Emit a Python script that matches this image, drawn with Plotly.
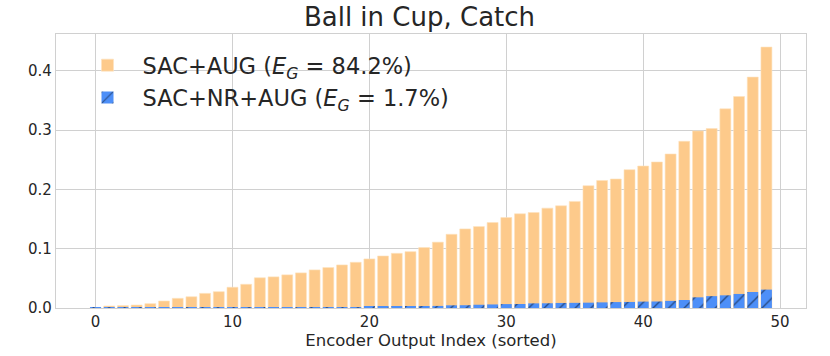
import plotly.graph_objects as go

# Sorted encoder output magnitudes
indices = list(range(50))
sac_aug = [0.001, 0.0034, 0.004, 0.005, 0.0073, 0.0118, 0.0163, 0.019, 0.0247, 0.0275,
           0.035, 0.040, 0.051, 0.0525, 0.0559, 0.0592, 0.0642, 0.0682, 0.0726, 0.0771,
           0.0827, 0.0877, 0.0922, 0.095, 0.102, 0.111, 0.1243, 0.1333, 0.1373, 0.1441,
           0.1525, 0.1588, 0.161, 0.1684, 0.1723, 0.1797, 0.2062, 0.215, 0.2175, 0.2332,
           0.2394, 0.2462, 0.2597, 0.2811, 0.2986, 0.3025, 0.3358, 0.3566, 0.3893, 0.44]
sac_nr_aug = [0.0001, 0.0001, 0.0001, 0.0001, 0.0001, 0.0002, 0.0002, 0.0002, 0.0002, 0.0002,
              0.0002, 0.0002, 0.0003, 0.0003, 0.0004, 0.0005, 0.0008, 0.001, 0.0012, 0.0015,
              0.002, 0.0025, 0.0028, 0.003, 0.0033, 0.0035, 0.0045, 0.0047, 0.0055, 0.006,
              0.0066, 0.0068, 0.0078, 0.008, 0.0085, 0.0087, 0.009, 0.0095, 0.0100, 0.0102,
              0.0108, 0.011, 0.012, 0.0135, 0.018, 0.020, 0.0214, 0.0237, 0.027, 0.031]
x_ticks = [0, 10, 20, 30, 40, 50]
y_ticks = [0.0, 0.1, 0.2, 0.3, 0.4]

TEXT = '#262626'
GRID = '#d0d0d0'

fig = go.Figure()

fig.add_trace(go.Bar(
    x=indices, y=sac_aug, width=0.8,
    name='SAC+AUG (<i>E</i><sub><i>G</i></sub> = 84.2%)',
    legendgroup='a',
    marker=dict(color='#fdca8b', line=dict(color='#fde2bd', width=0.6)),
))
fig.add_trace(go.Bar(
    x=indices, y=sac_nr_aug, width=0.8,
    name='SAC+NR+AUG (<i>E</i><sub><i>G</i></sub> = 1.7%)',
    legendgroup='b',
    marker=dict(color='#4d8ff8', line=dict(width=0),
                pattern=dict(shape='/', fgcolor='black', size=11, solidity=0.12)),
))

fig.update_layout(
    width=830, height=356,
    margin=dict(l=56, r=24, t=34, b=48),
    barmode='overlay',
    plot_bgcolor='white', paper_bgcolor='white',
    font=dict(family='DejaVu Sans', color=TEXT, size=15),
    title=dict(text='Ball in Cup, Catch', x=0.5054, xanchor='center', y=0.953, yanchor='middle',
               font=dict(size=26, color=TEXT)),
    legend=dict(x=0.022, y=0.9635, xanchor='left', yanchor='top',
                bgcolor='rgba(0,0,0,0)', font=dict(size=22.5, color=TEXT),
                itemwidth=60, tracegroupgap=12, traceorder='normal'),
    xaxis=dict(range=[-2.89, 51.89], tickvals=x_ticks, showgrid=True, gridcolor=GRID,
               gridwidth=1.2, zeroline=False, showline=True, mirror=True, linecolor=GRID,
               linewidth=1.2, ticks='', ticklen=0, automargin=False,
               title=dict(text='Encoder Output Index (sorted)', font=dict(size=16.5), standoff=4)),
    yaxis=dict(range=[0, 0.462], tickvals=y_ticks, tickformat='.1f', showgrid=True,
               gridcolor=GRID, gridwidth=1.2, zeroline=False, showline=True, mirror=True,
               linecolor=GRID, linewidth=1.2, ticks='', ticklen=0, automargin=False),
)

# drop the default body margin so the figure sits at the page's top-left corner
fig.write_html("out.html", config={'displayModeBar': False},
               post_script="document.body.style.margin='0';")
